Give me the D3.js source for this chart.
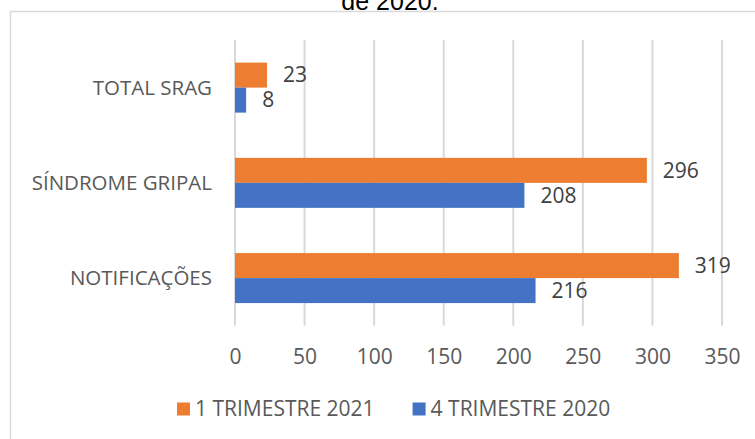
<!DOCTYPE html>
<html>
<head>
<meta charset="utf-8">
<script src="https://cdn.jsdelivr.net/npm/d3@7"></script>
<style>
  body { margin: 0; background: #fff; }
  svg { display: block; }
</style>
</head>
<body>
<div id="chart"></div>
<script>
const categories = ["TOTAL SRAG", "SÍNDROME GRIPAL", "NOTIFICAÇÕES"];
const seriesNames = ["1 TRIMESTRE 2021", "4 TRIMESTRE 2020"];
const values2021 = [23, 296, 319];
const values2020 = [8, 208, 216];
const xTicks = [0, 50, 100, 150, 200, 250, 300, 350];
const colors = ["#ED7D31", "#4472C4"];

const W = 755, H = 439;
const FONT = "'Liberation Sans Narrow', 'Arial Narrow', 'Open Sans', sans-serif";

const svg = d3.select("#chart").append("svg")
  .attr("width", W)
  .attr("height", H);

// outer frame (runs off the right and bottom)
svg.append("rect")
  .attr("x", 10.5).attr("y", 11.5)
  .attr("width", W + 20).attr("height", H + 20)
  .attr("fill", "none")
  .attr("stroke", "#D9D9D9")
  .attr("stroke-width", 1.5);

// title, cut by the top edge as in the source
svg.append("text")
  .attr("x", 390).attr("y", 10)
  .attr("text-anchor", "middle")
  .style("font-family", "'Liberation Sans', Arial, sans-serif")
  .style("font-size", "25px")
  .style("fill", "#000")
  .text("de 2020.");

const x = d3.scaleLinear().domain([0, 350]).range([235, 722]);
const y = d3.scaleBand().domain(categories).range([40, 325.7])
  .paddingInner(0.475).paddingOuter(0.2375);

// gridlines
svg.append("g")
  .selectAll("line")
  .data(xTicks)
  .join("line")
  .attr("x1", d => x(d)).attr("x2", d => x(d))
  .attr("y1", 40).attr("y2", 325.7)
  .attr("stroke", "#D9D9D9")
  .attr("stroke-width", 2);

// x axis labels
svg.append("g")
  .attr("transform", "translate(0,357)")
  .call(d3.axisBottom(x).tickValues(xTicks).tickSize(0).tickPadding(0))
  .call(ax => ax.select(".domain").remove())
  .selectAll("text")
  .attr("dy", "0.35em")
  .style("font-family", FONT)
  .style("font-size", "21px")
  .style("fill", "#595959");

// category labels
svg.append("g")
  .attr("transform", "translate(212,0)")
  .call(d3.axisLeft(y).tickSize(0).tickPadding(0))
  .call(ax => ax.select(".domain").remove())
  .selectAll("text")
  .attr("dy", "0.35em")
  .style("font-family", FONT)
  .style("font-size", "20.5px")
  .style("fill", "#595959");

const rows = categories.map((c, i) => ({ cat: c, vals: [values2021[i], values2020[i]] }));
const half = y.bandwidth() / 2;

const groups = svg.append("g").selectAll("g")
  .data(rows)
  .join("g")
  .attr("transform", d => `translate(0,${y(d.cat)})`);

groups.selectAll("rect")
  .data(d => d.vals)
  .join("rect")
  .attr("x", x(0))
  .attr("y", (d, i) => i * half)
  .attr("width", d => x(d) - x(0))
  .attr("height", half)
  .attr("fill", (d, i) => colors[i]);

groups.selectAll("text")
  .data(d => d.vals)
  .join("text")
  .attr("x", d => x(d) + 16)
  .attr("y", (d, i) => i * half + half / 2)
  .attr("dy", "0.35em")
  .style("font-family", FONT)
  .style("font-size", "21px")
  .style("fill", "#404040")
  .text(d => d);

// legend
const legendX = [177, 412.6];
const legend = svg.append("g").selectAll("g")
  .data(seriesNames)
  .join("g")
  .attr("transform", (d, i) => `translate(${legendX[i]},409)`);

legend.append("rect")
  .attr("x", 0).attr("y", -6.5)
  .attr("width", 13).attr("height", 13)
  .attr("fill", (d, i) => colors[i]);

legend.append("text")
  .attr("x", 18).attr("y", 0)
  .attr("dy", "0.35em")
  .style("font-family", FONT)
  .style("font-size", "21px")
  .style("fill", "#595959")
  .text(d => d);
</script>
</body>
</html>
